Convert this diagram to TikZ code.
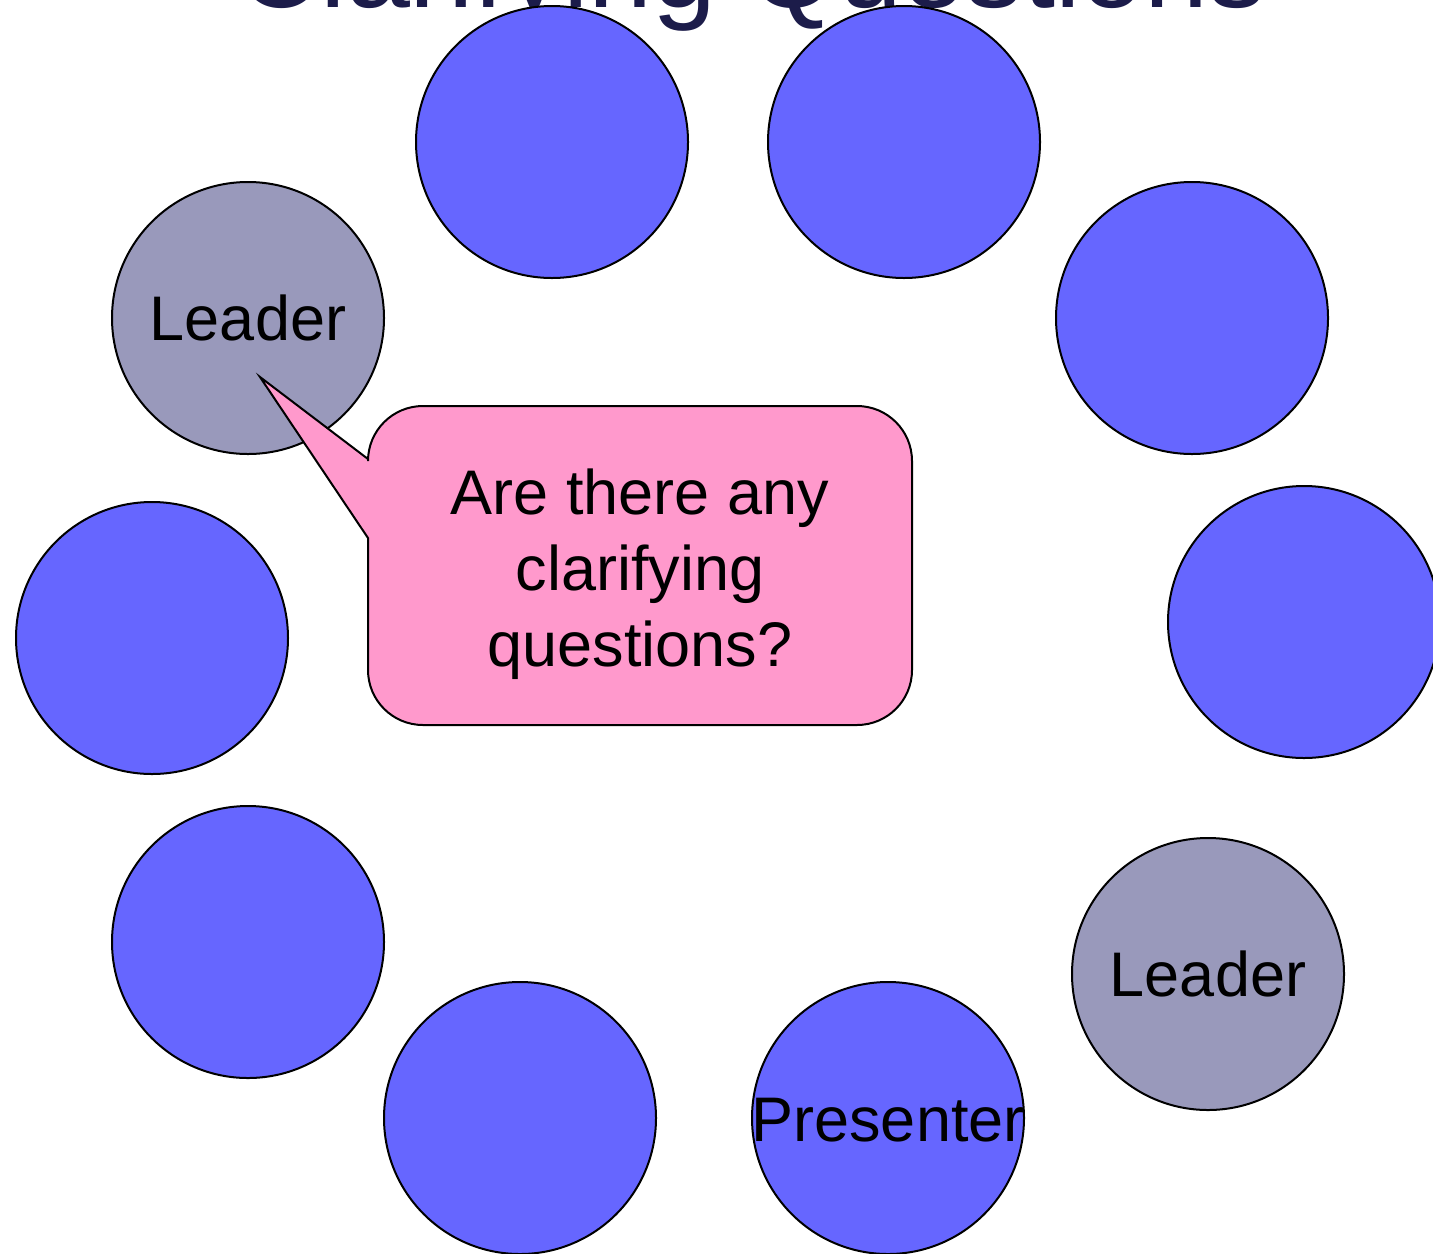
\documentclass[tikz,border=0pt]{standalone}
\usepackage{fontspec}
\setmainfont{Liberation Sans}
\definecolor{seatblue}{HTML}{6666FF}
\definecolor{leadgrey}{HTML}{9999BB}
\definecolor{bubble}{HTML}{FF99CC}
\definecolor{titlenavy}{HTML}{1C1C4A}
\begin{document}
\begin{tikzpicture}[x=0.5pt,y=-0.5pt,
  seat/.style={circle,draw=black,line width=1pt,fill=seatblue,minimum size=136pt,inner sep=0pt,
    font=\fontsize{31.5pt}{38pt}\selectfont},
  leader/.style={seat,fill=leadgrey},
  callout/.style={draw=black,line width=1pt,fill=bubble,line join=miter},
  bubbletext/.style={align=center,font=\fontsize{31.5pt}{38pt}\selectfont}]
  \useasboundingbox (0,0) rectangle (1433,1253);
  \clip (0,0) rectangle (1433,1253);
  % title, mostly above the page
  \node[anchor=base,text=titlenavy,font=\fontsize{57.5pt}{60pt}\selectfont] (title) at (752,7) {Clarifying Questions};
  % the circle of seats
  \node[seat] (s1) at (552,142) {};
  \node[seat] (s2) at (904,142) {};
  \node[seat] (s3) at (1192,318) {};
  \node[seat] (s4) at (1304,622) {};
  \node[leader] (l2) at (1208,974) {Leader};
  \node[seat,label={[font=\fontsize{31.5pt}{38pt}\selectfont,yshift=-1pt]center:Presenter}] (pres) at (888,1118) {};
  \node[seat] (s6) at (520,1118) {};
  \node[seat] (s7) at (248,942) {};
  \node[seat] (s8) at (152,638) {};
  \node[leader] (l1) at (248,318) {Leader};
  % speech bubble from the first leader
  \coordinate (tip) at (260,377);
  \draw[callout] (tip) -- (368,459) -- (368,461) arc (180:270:55) -- (857,406)
    arc (270:360:55) -- (912,670) arc (0:90:55) -- (423,725) arc (90:180:55)
    -- (368,538) -- cycle;
  \node[bubbletext] (q) at (640,574) {Are there any\\clarifying\\questions?};
\end{tikzpicture}
\end{document}
